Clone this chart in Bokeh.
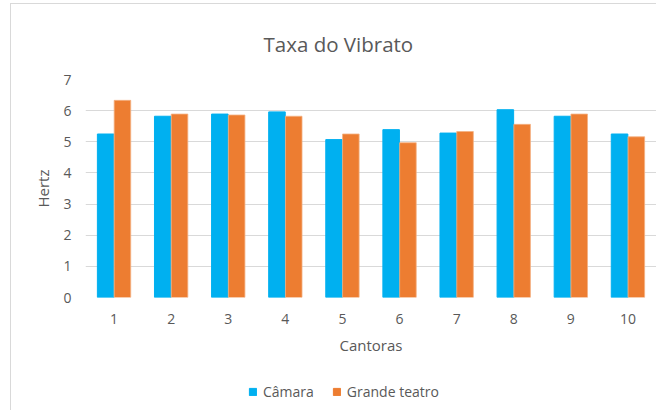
from bokeh.plotting import figure
from bokeh.layouts import column
from bokeh.models import ColumnDataSource, FactorRange, Legend, LegendItem, Title, FixedTicker, Range1d
from bokeh.transform import dodge
from bokeh.embed import file_html
from bokeh.resources import INLINE

cantoras = ["1", "2", "3", "4", "5", "6", "7", "8", "9", "10"]
camara = [5.25, 5.82, 5.89, 5.96, 5.07, 5.39, 5.28, 6.03, 5.82, 5.25]
grande_teatro = [6.33, 5.89, 5.86, 5.82, 5.25, 4.97, 5.33, 5.56, 5.89, 5.16]
series_names = ["Câmara", "Grande teatro"]
colors = ["#00B0F0", "#ED7D31"]

src = ColumnDataSource(dict(x=cantoras, camara=camara, grande=grande_teatro))

FONT = "Open Sans"
GRAY = "#595959"

p = figure(x_range=FactorRange(*cantoras, range_padding=0), y_range=(0, 7),
           width=645, height=354, output_backend="svg", toolbar_location=None,
           min_border_left=74, min_border_right=0, min_border_top=75, min_border_bottom=61)

p.vbar(x=dodge("x", -0.147, range=p.x_range), top="camara", width=0.29, source=src,
       fill_color=colors[0], line_color=colors[0])
p.vbar(x=dodge("x", 0.147, range=p.x_range), top="grande", width=0.29, source=src,
       fill_color=colors[1], line_color="#F4B183", line_width=0.8)

p.outline_line_color = None
p.xgrid.grid_line_color = None
p.ygrid.grid_line_color = "#D9D9D9"
p.ygrid.grid_line_width = 1
p.yaxis.ticker = FixedTicker(ticks=list(range(8)))

for ax in (p.xaxis[0], p.yaxis[0]):
    ax.axis_line_color = None
    ax.major_tick_line_color = None
    ax.minor_tick_line_color = None
    ax.major_tick_out = 0
    ax.major_tick_in = 0
    ax.minor_tick_out = 0
    ax.major_label_text_font = FONT
    ax.major_label_text_font_size = "14px"
    ax.major_label_text_color = GRAY
    ax.axis_label_text_font = FONT
    ax.axis_label_text_font_size = "15px"
    ax.axis_label_text_color = GRAY
    ax.axis_label_text_font_style = "normal"

p.xaxis.axis_label = "Cantoras"
p.yaxis.axis_label = "Hertz"
p.xaxis.major_label_standoff = 16
p.xaxis.axis_label_standoff = 8
p.yaxis.major_label_standoff = 14
p.yaxis.axis_label_standoff = 7

p.add_layout(Title(text="Taxa do Vibrato", align="left", offset=178, text_font=FONT,
                   text_font_size="20.5px", text_font_style="normal", text_color=GRAY,
                   standoff=43), "above")

# legend-only strip below the chart (its swatch glyphs sit outside the visible range)
lg = figure(width=645, height=52, output_backend="svg", toolbar_location=None,
            x_range=Range1d(0, 1), y_range=Range1d(0, 1),
            x_axis_location=None, y_axis_location=None,
            min_border_left=0, min_border_right=0, min_border_top=0, min_border_bottom=0)
lg.outline_line_color = None
lg.grid.grid_line_color = None
swatch = ColumnDataSource(dict(x=[-10], top=[-10]))
items = []
for name, c in zip(series_names, colors):
    r = lg.vbar(x="x", top="top", width=0.5, source=swatch, fill_color=c, line_color=c)
    items.append(LegendItem(label=name, renderers=[r]))

legend = Legend(items=items, orientation="horizontal", location=(163, 9),
                label_text_font=FONT, label_text_font_size="14px", label_text_color=GRAY,
                glyph_width=9, glyph_height=9, label_height=19, label_standoff=6,
                spacing=18, padding=2, margin=0, border_line_color=None,
                background_fill_alpha=0)
lg.add_layout(legend, "center")

layout = column(p, lg, styles={"border-left": "1px solid #D9D9D9",
                               "border-top": "1px solid #D9D9D9",
                               "margin-left": "10px", "margin-top": "3px"})

open("out.html", "w").write(file_html(layout, INLINE))
